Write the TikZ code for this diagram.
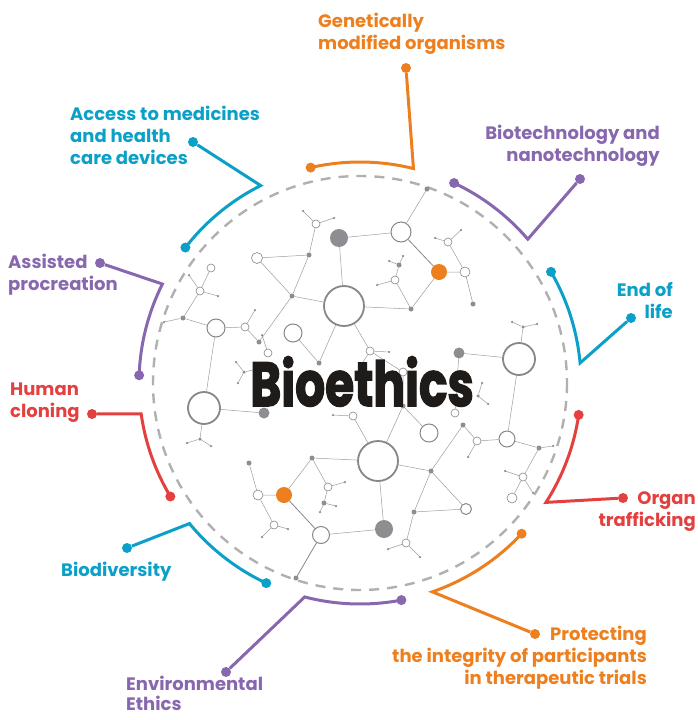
\documentclass[tikz,border=0pt]{standalone}
\usepackage{fontspec}
\setmainfont{Poppins}
\newfontfamily\titlefont[BoldFeatures={FakeBold=2.5}]{Poppins}
\usetikzlibrary{backgrounds}

\definecolor{cblue}{HTML}{0BA0C8}
\definecolor{corange}{HTML}{EE7F1F}
\definecolor{cpurple}{HTML}{8767AE}
\definecolor{cred}{HTML}{E3403F}
\definecolor{ringgray}{HTML}{B0B0B0}
\definecolor{atomgray}{HTML}{87868A}
\definecolor{atomfill}{HTML}{8E8D92}
\definecolor{bondgray}{HTML}{9C9C9C}
\definecolor{ink}{HTML}{1E1B18}

\begin{document}
\begin{tikzpicture}
  [x=1pt, y=-1pt,
  ring/.style={draw=ringgray, line width=2.4pt, dash pattern=on 10pt off 8pt},
  link/.style={line width=3pt, line join=miter},
  knob/.style={circle, fill, inner sep=0pt, minimum size=10pt},
  topic/.style={font=\bfseries\fontsize{18}{22}\selectfont, inner sep=0pt},
  bond/.style={draw=bondgray, line width=0.5pt},
  bigatom/.style={circle, draw=atomgray, line width=1.8pt, fill=white, inner sep=0pt},
  atom/.style={circle, draw=atomgray, line width=1pt, fill=white, inner sep=0pt},
  heavy/.style={circle, fill=atomfill, inner sep=0pt},
  amber/.style={circle, fill=corange, inner sep=0pt, minimum size=16pt},
  junction/.style={circle, fill=atomfill, inner sep=0pt, minimum size=5pt},
  bead/.style={circle, draw=atomgray, line width=0.6pt, fill=white, inner sep=0pt, minimum size=8pt},
  tipend/.style={circle, fill=atomfill, inner sep=0pt, minimum size=2.5pt}]

  \useasboundingbox (0,0) rectangle (698,720);
  \coordinate (c) at (360,383);
  \draw[ring] (c) circle[radius=207];

  % molecules
  \node[bigatom, minimum size=40pt] (b1) at (344,306) {};
  \node[bigatom, minimum size=40pt] (b2) at (378,461) {};
  \node[bigatom, minimum size=32pt] (b3) at (204,408) {};
  \node[bigatom, minimum size=32pt] (b4) at (519,359) {};
  \node[atom, minimum size=20pt] (m1) at (401,232) {};
  \node[atom, minimum size=18pt] (m2) at (216,328) {};
  \node[atom, minimum size=18pt] (m3) at (293,333) {};
  \node[atom, minimum size=18pt] (m4) at (429,433) {};
  \node[atom, minimum size=16pt] (m5) at (507,439) {};
  \node[atom, minimum size=17pt] (m6) at (321,535) {};
  \node[atom, minimum size=11pt] (m7) at (466,509) {};
  \node[heavy, minimum size=18pt] (g1) at (339,238) {};
  \node[heavy, minimum size=11pt] (g2) at (459,353) {};
  \node[heavy, minimum size=11pt] (g3) at (264,413) {};
  \node[heavy, minimum size=18pt] (g4) at (384,529) {};
  \node[amber] (o1) at (439,272) {};
  \node[amber] (o2) at (284,495) {};
  \node[junction] (d1) at (309,255) {};
  \node[junction] (d2) at (292,296) {};
  \node[junction] (d3) at (259,342) {};
  \node[junction] (d4) at (183,318) {};
  \node[junction] (d5) at (319,363) {};
  \node[junction] (d6) at (411,309) {};
  \node[junction] (d7) at (427,189) {};
  \node[junction] (d8) at (473,304) {};
  \node[junction] (d9) at (399,265) {};
  \node[junction] (d10) at (463,425) {};
  \node[junction] (d11) at (431,471) {};
  \node[junction] (d12) at (312,458) {};
  \node[junction] (d13) at (249,463) {};
  \node[junction] (d14) at (414,512) {};
  \node[junction] (d15) at (324,503) {};
  \node[junction] (d16) at (296,578) {};
  \node[junction] (d17) at (539,448) {};
  \node[junction, minimum size=3.5pt] (d18) at (523,327) {};
  \node[junction, minimum size=3.5pt] (d19) at (200,439) {};
  \node[junction, minimum size=3.5pt] (d20) at (244,372) {};
  \node[junction, minimum size=3.5pt] (d21) at (478,396) {};
  \node[junction] (d22) at (403,406) {};
  \node[bead, minimum size=11pt] (s1) at (257,258) {};
  \node[bead] (s2) at (211,268) {};
  \node[bead] (s3) at (200,291) {};
  \node[bead] (s4) at (245,327) {};
  \node[bead] (s5) at (316,224) {};
  \node[bead] (s6) at (370,351) {};
  \node[bead] (s7) at (395,280) {};
  \node[bead] (s8) at (448,242) {};
  \node[bead, minimum size=10pt] (s9) at (465,272) {};
  \node[bead] (s10) at (353,416) {};
  \node[bead] (s11) at (477,441) {};
  \node[bead] (s12) at (523,477) {};
  \node[bead, minimum size=10pt] (s13) at (512,498) {};
  \node[bead, minimum size=10pt] (s14) at (258,495) {};
  \node[bead] (s15) at (328,487) {};
  \node[bead] (s16) at (274,525) {};
  \node[bead] (s17) at (406,543) {};
  \node[bead] (s18) at (455,413) {};
  \node[bead] (s19) at (268,353) {};
  \node[bead] (s20) at (403,372) {};

  \begin{scope}[on background layer]
    \draw[bond] (s1) -- (d1) (s1) -- (d2) (d1) -- (d2) (d2) -- (d3) (d2) -- (b1);
    \draw[bond] (d1) -- (s5) (g1) -- (b1) (g1) -- (m1) (m1) -- (d7);
    \draw[bond, draw=atomgray, line width=0.8pt] (m1) -- (o1);
    \draw[bond] (o1) -- (s9) (o1) -- (d6) (s9) -- (d8) (s9) -- (s8);
    \draw[bond] (d6) -- (b1) (d6) -- (s7) (s7) -- (d9);
    \draw[bond] (s2) -- (s3) (s3) -- (d4) (d4) -- (m2) (m2) -- (s4) (s4) -- (d3);
    \draw[bond] (m2) -- (b3) (b3) -- (g3) (b3) -- (d19);
    \draw[bond] (m3) -- (d5) (d5) -- (b1) (b1) -- (s6) (s6) -- (s20);
    \draw[bond] (g2) -- (b4) (g2) -- (s18) (b4) -- (d18) (b4) -- (m5);
    \draw[bond] (m5) -- (s11) (m5) -- (d17) (s11) -- (d10) (d17) -- (s12) (s12) -- (s13);
    \draw[bond] (b2) -- (d12) (b2) -- (s10) (b2) -- (d22) (b2) -- (d11) (b2) -- (g4);
    \draw[bond] (d22) -- (m4) (d22) -- (s20);
    \draw[bond] (d11) -- (d10) (d11) -- (m7) (d11) -- (d14) (d14) -- (m7) (d14) -- (s17);
    \draw[bond] (d12) -- (o2) (d12) -- (s15) (s15) -- (d15);
    \draw[bond] (o2) -- (s14) (s14) -- (d13) (s14) -- (s16) (g4) -- (m6);
    \draw[bond, draw=atomgray, line width=0.8pt] (o2) -- (m6) (m6) -- (d16);
    % short twigs
    \foreach \a/\dx/\dy in {s5/-13/-13, s5/18/-6, s3/-11/-16, s3/18/5, s4/10/-17,
      d4/-19/4, s8/-13/-4, s8/13/-12, s7/-18/5, d9/-10/-4, d9/4/-9, s6/19/1,
      s6/-10/16, d18/-11/-5, d18/14/-3, d19/-13/4, d19/11/7, d20/-8/-10,
      d20/-6/11, d20/18/-4, d21/4/-13, d21/10/8, s16/-12/12, s16/14/4,
      s15/17/-5, d15/12/3, d15/-4/9, s17/-18/6, s17/14/14, s11/-9/16,
      s12/-18/-6, s12/10/16, d17/14/-2, s10/-20/-1, s19/-6/-18}
      \draw[bond] (\a) -- ++(\dx,\dy) node[tipend] {};
  \end{scope}

  % topics round the ring
  \node[knob, corange] (gmoA) at (406,68) {};
  \path (c) ++(-76:221) coordinate (gmoK) (c) ++(-102.9:221) node[knob, corange] (gmoB) {};
  \draw[link, corange] (gmoA) -- (gmoK) arc[start angle=-76, end angle=-102.9, radius=221];

  \node[knob, cblue] (accA) at (193,142) {};
  \path (c) ++(-116.7:221) coordinate (accK) (c) ++(-142.2:221) node[knob, cblue] (accB) {};
  \draw[link, cblue] (accA) -- (accK) arc[start angle=-116.7, end angle=-142.2, radius=221];

  \node[knob, cpurple] (bioA) at (580,179) {};
  \path (c) ++(-40.6:221) coordinate (bioK) (c) ++(-64.8:221) node[knob, cpurple] (bioB) {};
  \draw[link, cpurple] (bioA) -- (bioK) arc[start angle=-40.6, end angle=-64.8, radius=221];

  \node[knob, cblue] (endA) at (631,318) {};
  \path (c) ++(-5.2:221) coordinate (endK) (c) ++(-30.2:221) node[knob, cblue] (endB) {};
  \draw[link, cblue] (endA) -- (endK) arc[start angle=-5.2, end angle=-30.2, radius=221];

  \node[knob, cred] (orgA) at (623,498) {};
  \path (c) ++(32.7:221) coordinate (orgK) (c) ++(8.3:221) node[knob, cred] (orgB) {};
  \draw[link, cred] (orgA) -- (orgK) arc[start angle=32.7, end angle=8.3, radius=221];

  \node[knob, corange] (proA) at (535,634) {};
  \path (c) ++(70.9:221) coordinate (proK) (c) ++(43:221) node[knob, corange] (proB) {};
  \draw[link, corange] (proA) -- (proK) arc[start angle=70.9, end angle=43, radius=221];

  \node[knob, cpurple] (envA) at (226,672) {};
  \path (c) ++(104.5:221) coordinate (envK) (c) ++(79.2:221) node[knob, cpurple] (envB) {};
  \draw[link, cpurple] (envA) -- (envK) arc[start angle=104.5, end angle=79.2, radius=221];

  \node[knob, cblue] (divA) at (127,548) {};
  \path (c) ++(140.5:221) coordinate (divK) (c) ++(115.1:221) node[knob, cblue] (divB) {};
  \draw[link, cblue] (divA) -- (divK) arc[start angle=140.5, end angle=115.1, radius=221];

  \node[knob, cred] (cloA) at (92,414) {};
  \path (c) ++(172:221) coordinate (cloK) (c) ++(149.1:221) node[knob, cred] (cloB) {};
  \draw[link, cred] (cloA) -- (cloK) arc[start angle=172, end angle=149.1, radius=221];

  \node[knob, cpurple] (assA) at (100,263) {};
  \path (c) ++(206.6:221) coordinate (assK) (c) ++(182:221) node[knob, cpurple] (assB) {};
  \draw[link, cpurple] (assA) -- (assK) arc[start angle=206.6, end angle=182, radius=221];

  % labels
  \node[topic, text=corange, align=left, anchor=north west] (gmoL) at (318,13) {Genetically\\modified organisms};
  \node[topic, text=cblue, align=left, anchor=north west] (accL) at (70,106) {Access to medicines\\and health\\care devices};
  \node[topic, text=cpurple, align=right, anchor=north east] (bioL) at (660,125) {Biotechnology and\\nanotechnology};
  \node[topic, text=cblue, align=right, anchor=north east] (endL) at (673,282) {End of\\life};
  \node[topic, text=cpurple, align=left, anchor=north west] (assL) at (8,254) {Assisted\\procreation};
  \node[topic, text=cred, align=left, anchor=north west] (cloL) at (10,383) {Human\\cloning};
  \node[topic, text=cred, align=right, anchor=north east] (orgL) at (696,491) {Organ\\trafficking};
  \node[topic, text=cblue, anchor=north west] (divL) at (61,562) {Biodiversity};
  \node[topic, text=corange, align=right, anchor=north east] (proL) at (647,626) {Protecting\\the integrity of participants\\in therapeutic trials};
  \node[topic, text=cpurple, align=left, anchor=north west] (envL) at (126,676) {Environmental\\[-2pt]Ethics};

  \node[font=\titlefont\bfseries\fontsize{62}{62}\selectfont, text=ink, inner sep=0pt, anchor=base] (title) at (362,406) {\scalebox{0.76}[1]{Bioethics}};
\end{tikzpicture}
\end{document}
